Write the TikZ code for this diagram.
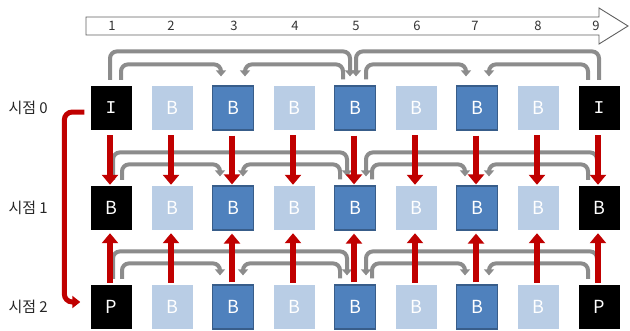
\documentclass[tikz,border=0pt]{standalone}
\usepackage{fontspec}
\setmainfont{Noto Sans CJK KR}
\newfontfamily\serifI{Liberation Mono}
\usetikzlibrary{arrows.meta,calc}
\definecolor{redarr}{HTML}{C00000}
\definecolor{grayarr}{HTML}{8C8C8C}
\definecolor{darkfill}{HTML}{4F81BD}
\definecolor{darkline}{HTML}{385D8A}
\definecolor{litefill}{HTML}{B9CDE5}
\definecolor{framegray}{HTML}{606060}
% gray reference arrow: source node, x offset, target node, x offset, level above the box top
\newcommand\grayhop[5]{%
  \draw[garr] ([shift={(#2,-6)}]#1.north) |- ([shift={(#4,#5)}]#3.north) -- ([shift={(#4,-9)}]#3.north);}
\begin{document}
\begin{tikzpicture}[x=1pt,y=-1pt,
  frame/.style={minimum width=41pt,minimum height=44pt,inner sep=0pt,text=white,
    font=\fontsize{18}{18}\selectfont},
  blk/.style={frame,fill=black},
  lite/.style={frame,fill=litefill},
  dark/.style={frame,fill=darkfill,draw=darkline,line width=1.2pt},
  garr/.style={draw=grayarr,line width=4pt,rounded corners=7pt,
    -{Triangle[width=10pt,length=6pt]}},
  rarr/.style={draw=redarr,line width=6pt,-{Triangle[width=16pt,length=10pt]}},
  rbend/.style={draw=redarr,line width=5pt,rounded corners=8pt,
    -{Triangle[width=12pt,length=8pt]}},
  numlbl/.style={font=\fontsize{13}{13}\selectfont,text=black!80},
  rowlbl/.style={font=\fontsize{15}{15}\selectfont,anchor=west,text=black!85}
]
\useasboundingbox (0,0) rectangle (630,330);

% time axis
\draw[draw=framegray,fill=white,line width=0.9pt]
  (86,17) -- (599,17) -- (599,8) -- (628,26) -- (599,44) -- (599,35) -- (86,35) -- cycle;
\foreach \c/\x in {1/112,2/171,3/234,4/295,5/356,6/417,7/475,8/538,9/596}
  \node[numlbl] (n\c) at (\x,26) {\c};

% frames
\foreach \c/\x/\s/\t in {1/111/blk/\serifI I,2/172/lite/B,3/233/dark/B,4/294/lite/B,5/355/dark/B,
                        6/416/lite/B,7/477/dark/B,8/538/lite/B,9/599/blk/\serifI I}
  \node[\s] (r0c\c) at (\x,108) {\t};
\foreach \c/\x/\s in {1/111/blk,2/172/lite,3/233/dark,4/294/lite,5/355/dark,
                     6/416/lite,7/477/dark,8/538/lite,9/599/blk}
  \node[\s] (r1c\c) at (\x,208) {B};
\foreach \c/\x/\s/\t in {1/111/blk/P,2/172/lite/B,3/233/dark/B,4/294/lite/B,5/355/dark/B,
                        6/416/lite/B,7/477/dark/B,8/538/lite/B,9/599/blk/P}
  \node[\s] (r2c\c) at (\x,307) {\t};

% row labels
\node[rowlbl] (t0) at (5,108) {시점 0};
\node[rowlbl] (t1) at (5,208) {시점 1};
\node[rowlbl] (t2) at (5,307) {시점 2};

% temporal references, row 0
\grayhop{r0c1}{-1}{r0c5}{-5}{-34}
\grayhop{r0c9}{0}{r0c5}{1}{-34}
\grayhop{r0c1}{10}{r0c3}{-12}{-21}
\grayhop{r0c5}{-12}{r0c3}{12}{-21}
\grayhop{r0c5}{11}{r0c7}{-11}{-21}
\grayhop{r0c9}{-11}{r0c7}{12}{-21}

% temporal references, rows 1 and 2
\foreach \r in {1,2}{
  \grayhop{r\r c1}{2}{r\r c5}{-8}{-33}
  \grayhop{r\r c9}{-2}{r\r c5}{11}{-33}
  \grayhop{r\r c1}{11}{r\r c3}{-13}{-21}
  \grayhop{r\r c5}{-15}{r\r c3}{10}{-21}
  \grayhop{r\r c5}{17}{r\r c7}{-12}{-21}
  \grayhop{r\r c9}{-11}{r\r c7}{12}{-21}
}

% inter-view references
\foreach \c in {1,...,9}{
  \draw[rarr] ([shift={(-1,5)}]r0c\c.south) -- ([shift={(-1,-1)}]r1c\c.north);
  \draw[rarr] ([shift={(-1,-2)}]r2c\c.north) -- ([shift={(-1,3)}]r1c\c.south);
}

% view 0 to view 2
\draw[rbend] ([shift={(-6,4)}]r0c1.west) -- ++(-20,0) |- ([shift={(-10,-5)}]r2c1.west);
\end{tikzpicture}
\end{document}
